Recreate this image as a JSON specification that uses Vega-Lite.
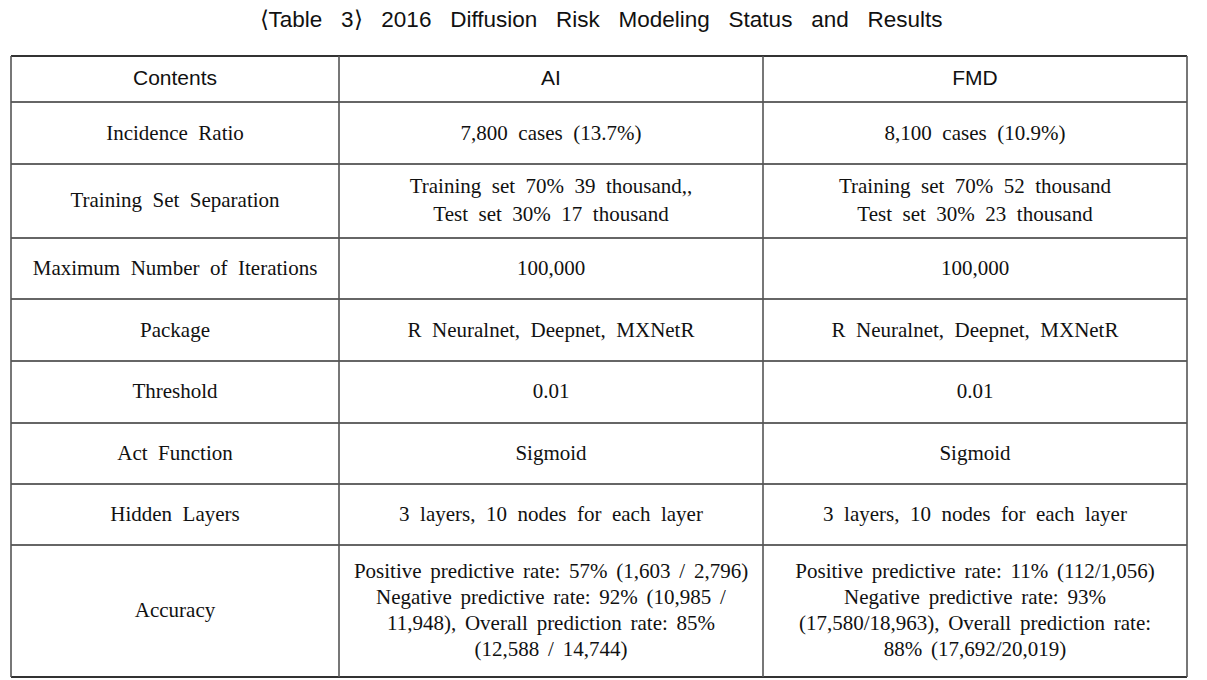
{
  "$schema": "https://vega.github.io/schema/vega-lite/v6.json",
  "width": 1207,
  "height": 680,
  "autosize": {"type": "fit", "contains": "padding"},
  "padding": 0,
  "background": "white",
  "config": {"view": {"stroke": null}},
  "datasets": {
    "hlines": [
      {"y": 102, "x0": 11, "x1": 1187},
      {"y": 164, "x0": 11, "x1": 1187},
      {"y": 238, "x0": 11, "x1": 1187},
      {"y": 299, "x0": 11, "x1": 1187},
      {"y": 361, "x0": 11, "x1": 1187},
      {"y": 423, "x0": 11, "x1": 1187},
      {"y": 484, "x0": 11, "x1": 1187},
      {"y": 545, "x0": 11, "x1": 1187}
    ],
    "border": [
      {"y": 56, "x0": 11, "x1": 1187},
      {"y": 677, "x0": 11, "x1": 1187}
    ],
    "vlines": [
      {"x": 11, "y0": 56, "y1": 677},
      {"x": 339, "y0": 56, "y1": 677},
      {"x": 763, "y0": 56, "y1": 677},
      {"x": 1187, "y0": 56, "y1": 677}
    ],
    "title": [
      {"text": "⟨Table \u00a0\u00a03⟩ \u00a0\u00a02016 \u00a0\u00a0Diffusion \u00a0\u00a0Risk \u00a0\u00a0Modeling \u00a0\u00a0Status \u00a0\u00a0and \u00a0\u00a0Results", "x": 601, "y": 20}
    ],
    "header": [
      {"text": "Contents", "x": 175, "y": 79},
      {"text": "AI", "x": 551, "y": 79},
      {"text": "FMD", "x": 975, "y": 79}
    ],
    "cells": [
      {"text": "Incidence \u00a0Ratio", "x": 175, "y": 134},
      {"text": "7,800 \u00a0cases \u00a0(13.7%)", "x": 551, "y": 134},
      {"text": "8,100 \u00a0cases \u00a0(10.9%)", "x": 975, "y": 134},
      {"text": "Training \u00a0Set \u00a0Separation", "x": 175, "y": 201},
      {"text": "Maximum \u00a0Number \u00a0of \u00a0Iterations", "x": 175, "y": 269},
      {"text": "100,000", "x": 551, "y": 269},
      {"text": "100,000", "x": 975, "y": 269},
      {"text": "Package", "x": 175, "y": 331},
      {"text": "R \u00a0Neuralnet, \u00a0Deepnet, \u00a0MXNetR", "x": 551, "y": 331},
      {"text": "R \u00a0Neuralnet, \u00a0Deepnet, \u00a0MXNetR", "x": 975, "y": 331},
      {"text": "Threshold", "x": 175, "y": 392},
      {"text": "0.01", "x": 551, "y": 392},
      {"text": "0.01", "x": 975, "y": 392},
      {"text": "Act \u00a0Function", "x": 175, "y": 454},
      {"text": "Sigmoid", "x": 551, "y": 454},
      {"text": "Sigmoid", "x": 975, "y": 454},
      {"text": "Hidden \u00a0Layers", "x": 175, "y": 515},
      {"text": "3 \u00a0layers, \u00a010 \u00a0nodes \u00a0for \u00a0each \u00a0layer", "x": 551, "y": 515},
      {"text": "3 \u00a0layers, \u00a010 \u00a0nodes \u00a0for \u00a0each \u00a0layer", "x": 975, "y": 515},
      {"text": "Accuracy", "x": 175, "y": 611}
    ],
    "cells2": [
      {"text": "Training \u00a0set \u00a070% \u00a039 \u00a0thousand,,\nTest \u00a0set \u00a030% \u00a017 \u00a0thousand", "x": 551, "y": 201},
      {"text": "Training \u00a0set \u00a070% \u00a052 \u00a0thousand\nTest \u00a0set \u00a030% \u00a023 \u00a0thousand", "x": 975, "y": 201}
    ],
    "cells4": [
      {"text": "Positive\u2006 predictive\u2006 rate:\u2006 57%\u2006 (1,603\u2006 /\u2006 2,796)\nNegative\u2006 predictive\u2006 rate:\u2006 92%\u2006 (10,985\u2006 /\n11,948),\u2006 Overall\u2006 prediction\u2006 rate:\u2006 85%\n(12,588\u2006 /\u2006 14,744)", "x": 551, "y": 611},
      {"text": "Positive\u2006 predictive\u2006 rate:\u2006 11%\u2006 (112/1,056)\nNegative\u2006 predictive\u2006 rate:\u2006 93%\n(17,580/18,963),\u2006 Overall\u2006 prediction\u2006 rate:\n88%\u2006 (17,692/20,019)", "x": 975, "y": 611}
    ]
  },
  "layer": [
    {
      "data": {"name": "hlines"},
      "mark": {"type": "rule", "color": "#333", "strokeWidth": 1.3},
      "encoding": {
        "y": {"field": "y", "type": "quantitative", "scale": {"domain": [0, 680], "reverse": true, "nice": false, "zero": false}, "axis": null},
        "x": {"field": "x0", "type": "quantitative", "scale": {"domain": [0, 1207], "nice": false, "zero": false}, "axis": null},
        "x2": {"field": "x1"}
      }
    },
    {
      "data": {"name": "border"},
      "mark": {"type": "rule", "color": "#333", "strokeWidth": 2},
      "encoding": {
        "y": {"field": "y", "type": "quantitative", "axis": null},
        "x": {"field": "x0", "type": "quantitative", "axis": null},
        "x2": {"field": "x1"}
      }
    },
    {
      "data": {"name": "vlines"},
      "mark": {"type": "rule", "color": "#555", "strokeWidth": 1.6},
      "encoding": {
        "x": {"field": "x", "type": "quantitative", "axis": null},
        "y": {"field": "y0", "type": "quantitative", "axis": null},
        "y2": {"field": "y1"}
      }
    },
    {
      "data": {"name": "title"},
      "mark": {"type": "text", "font": "Liberation Sans", "fontSize": 22.5, "color": "#111", "align": "center", "baseline": "middle"},
      "encoding": {
        "x": {"field": "x", "type": "quantitative", "axis": null},
        "y": {"field": "y", "type": "quantitative", "axis": null},
        "text": {"field": "text"}
      }
    },
    {
      "data": {"name": "header"},
      "mark": {"type": "text", "font": "Liberation Sans", "fontSize": 21, "color": "#111", "align": "center", "baseline": "middle"},
      "encoding": {
        "x": {"field": "x", "type": "quantitative", "axis": null},
        "y": {"field": "y", "type": "quantitative", "axis": null},
        "text": {"field": "text"}
      }
    },
    {
      "data": {"name": "cells"},
      "mark": {"type": "text", "font": "Liberation Serif", "fontSize": 21, "color": "#111", "align": "center", "baseline": "middle"},
      "encoding": {
        "x": {"field": "x", "type": "quantitative", "axis": null},
        "y": {"field": "y", "type": "quantitative", "axis": null},
        "text": {"field": "text"}
      }
    },
    {
      "data": {"name": "cells2"},
      "mark": {"type": "text", "font": "Liberation Serif", "fontSize": 21, "color": "#111", "align": "center", "baseline": "middle", "lineBreak": "\n", "lineHeight": 28, "dy": -14},
      "encoding": {
        "x": {"field": "x", "type": "quantitative", "axis": null},
        "y": {"field": "y", "type": "quantitative", "axis": null},
        "text": {"field": "text"}
      }
    },
    {
      "data": {"name": "cells4"},
      "mark": {"type": "text", "font": "Liberation Serif", "fontSize": 21, "color": "#111", "align": "center", "baseline": "middle", "lineBreak": "\n", "lineHeight": 26.3, "dy": -39.5},
      "encoding": {
        "x": {"field": "x", "type": "quantitative", "axis": null},
        "y": {"field": "y", "type": "quantitative", "axis": null},
        "text": {"field": "text"}
      }
    }
  ]
}
